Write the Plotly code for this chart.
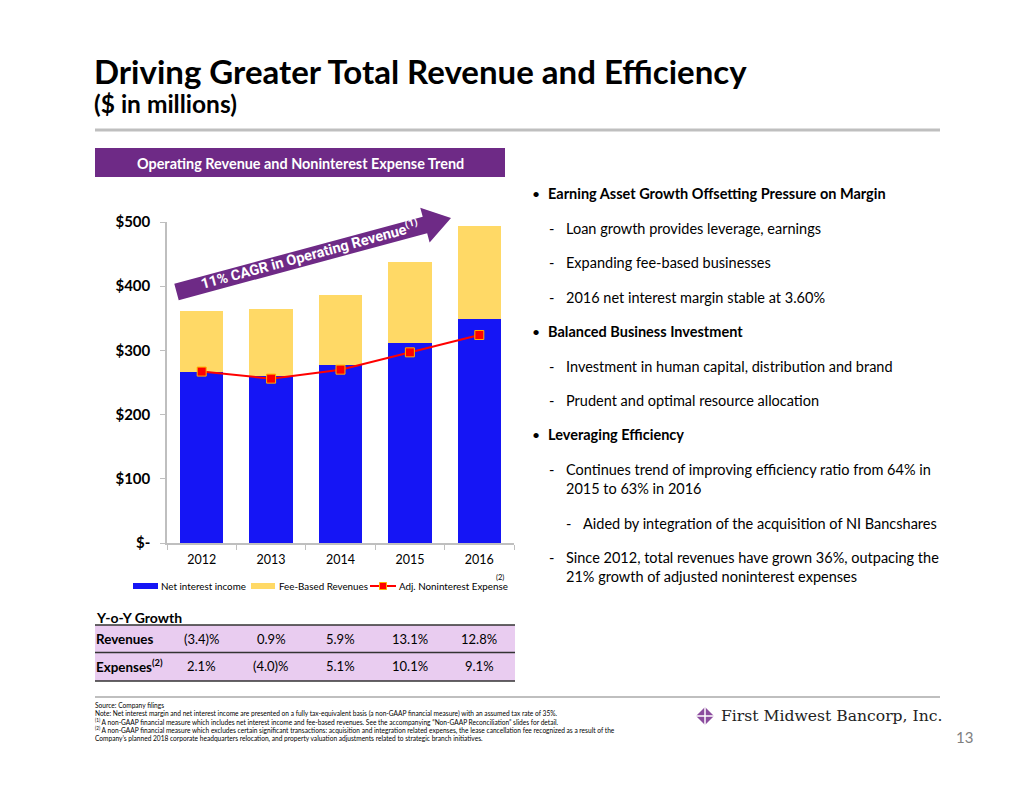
import math
import plotly.graph_objects as go

# ---------------- data ----------------
years = ["2012", "2013", "2014", "2015", "2016"]
net_interest_income = [266, 260, 277, 312, 349]
fee_based_revenues = [96, 105, 110, 126, 145]
adj_noninterest_expense = [267, 256, 270, 297, 324]
revenue_growth = ["(3.4)%", "0.9%", "5.9%", "13.1%", "12.8%"]
expense_growth = ["2.1%", "(4.0)%", "5.1%", "10.1%", "9.1%"]
y_tick_vals = [0, 100, 200, 300, 400, 500]
y_tick_text = ["$-", "$100", "$200", "$300", "$400", "$500"]

series_names = ["Net interest income", "Fee-Based Revenues", "Adj. Noninterest Expense"]
title_text = "Driving Greater Total Revenue and Efficiency"
subtitle_text = "($ in millions)"
header_text = "Operating Revenue and Noninterest Expense Trend"
arrow_text = "11% CAGR in Operating Revenue<sup>(1)</sup>"

# (level, text, y)  level 0 = bold bullet, 1 = dash, 2 = sub dash, 3 = continuation
bullets = [
    (0, "Earning Asset Growth Offsetting Pressure on Margin", 193),
    (1, "Loan growth provides leverage, earnings", 228),
    (1, "Expanding fee-based businesses", 262),
    (1, "2016 net interest margin stable at 3.60%", 297),
    (0, "Balanced Business Investment", 331),
    (1, "Investment in human capital, distribution and brand", 366),
    (1, "Prudent and optimal resource allocation", 400),
    (0, "Leveraging Efficiency", 434),
    (1, "Continues trend of improving efficiency ratio from 64% in", 469),
    (3, "2015 to 63% in 2016", 488),
    (2, "Aided by integration of the acquisition of NI Bancshares", 523),
    (1, "Since 2012, total revenues have grown 36%, outpacing the", 557),
    (3, "21% growth of adjusted noninterest expenses", 576),
]

footnotes = [
    ("Source: Company filings", 704.5),
    ("Note: Net interest margin and net interest income are presented on a fully tax-equivalent basis (a non-GAAP financial measure) with an assumed tax rate of 35%.", 713),
    ("<sup>(1)</sup> A non-GAAP financial measure which includes net interest income and fee-based revenues. See the accompanying \u201cNon-GAAP Reconciliation\u201d slides for detail.", 721),
    ("<sup>(2)</sup> A non-GAAP financial measure which excludes certain significant transactions: acquisition and integration related expenses, the lease cancellation fee recognized as a result of the", 729.5),
    ("Company\u2019s planned 2018 corporate headquarters relocation, and property valuation adjustments related to strategic branch initiatives.", 738),
]

# ---------------- geometry helpers (page pixel coords) ----------------
OFF = 8                      # page body margin
W, H = 1034 - 2 * OFF, 799 - 2 * OFF
PL, PR, PT, PB = 167, 514, 222, 543   # plot area in page pixels
ML, MR, MT, MB = PL - OFF, (W + OFF) - PR, PT - OFF, (H + OFF) - PB
PW = PR - PL
PH = PB - PT


def fx(px):
    return (px - PL) / PW


def fy(py):
    return (PB - py) / PH


FONT = "Lato, Carlito, Calibri, 'Open Sans', sans-serif"
PURPLE = "#6E2A86"
BLUE = "#1515F5"
YELLOW = "#FFD966"
RED = "#FF0000"
ORANGE = "#FFB000"

fig = go.Figure()
fig.add_trace(go.Bar(x=years, y=net_interest_income, name=series_names[0],
                     marker=dict(color=BLUE, line=dict(width=0))))
fig.add_trace(go.Bar(x=years, y=fee_based_revenues, name=series_names[1],
                     marker=dict(color=YELLOW, line=dict(width=0))))
fig.add_trace(go.Scatter(x=years, y=adj_noninterest_expense, mode="lines+markers",
                         name=series_names[2],
                         line=dict(color=RED, width=2),
                         marker=dict(symbol="square", size=9, color=RED,
                                     line=dict(color=ORANGE, width=1))))

annotations = []
shapes = []


def txt(text, x, y, size, color="#000000", xanchor="left", family=FONT, **kw):
    annotations.append(dict(text=text, x=fx(x), y=fy(y), xref="paper", yref="paper",
                            xanchor=xanchor, yanchor="middle", showarrow=False,
                            font=dict(family=family, size=size, color=color), **kw))


def rect(x0, y0, x1, y1, color, layer="above", line=None):
    shapes.append(dict(type="rect", xref="paper", yref="paper", x0=fx(x0), x1=fx(x1), y0=fy(y0), y1=fy(y1),
                       fillcolor=color, line=line or dict(width=0), layer=layer))


def hline(x0, x1, y, color, width):
    shapes.append(dict(type="line", xref="paper", yref="paper", x0=fx(x0), x1=fx(x1), y0=fy(y), y1=fy(y),
                       line=dict(color=color, width=width)))


# title
txt("<b>" + title_text + "</b>", 92, 71, 33)
txt("<b>" + subtitle_text + "</b>", 92, 104, 24.5)
hline(95, 940, 130, "#BFBFBF", 3)

# header box
rect(95, 148, 505, 177, PURPLE, layer="below")
txt("<b>" + header_text + "</b>", 300, 163, 14.4, color="#FFFFFF", xanchor="center")

# arrow
ox, oy = 176.5, 292.0
tx, ty = 451.0, 218.0
L = math.hypot(tx - ox, ty - oy)
ux, uy = (tx - ox) / L, (ty - oy) / L
nx, ny = -uy, ux
if ny > 0:
    nx, ny = -nx, -ny
hw, hh, hl = 8.5, 18, 27
pts = [(0, -hw), (L - hl, -hw), (L - hl, -hh), (L, 0), (L - hl, hh), (L - hl, hw), (0, hw)]
path = ""
for i, (s, t) in enumerate(pts):
    px = ox + s * ux + t * nx
    py = oy + s * uy + t * ny
    path += ("M" if i == 0 else " L") + " %.5f,%.5f" % (fx(px), fy(py))
path += " Z"
shapes.append(dict(type="path", path=path, xref="paper", yref="paper", fillcolor=PURPLE,
                   line=dict(width=0)))
ang = math.degrees(math.atan2(ty - oy, tx - ox))
txt("<b>" + arrow_text + "</b>", 309, 254, 14.5, color="#FFFFFF", xanchor="center",
    family="Roboto, 'DejaVu Sans', sans-serif", textangle=ang)

# bullets
for level, text, y in bullets:
    if level == 0:
        txt("\u2022", 530, y, 14)
        txt("<b>" + text + "</b>", 546, y, 14.5)
    elif level in (1, 2):
        dx = 0 if level == 1 else 17
        txt("-", 547 + dx, y, 14.5)
        txt(text, 564 + dx, y, 14.5)
    else:
        txt(text, 564, y, 14.5)

# manual legend (below chart)
rect(133, 583, 158, 589, BLUE)
txt(series_names[0], 159, 586, 9.8)
rect(251, 583, 275, 589, YELLOW)
txt(series_names[1], 277, 586, 9.8)
hline(370, 396, 586, RED, 2)
rect(379.5, 582.5, 386.5, 589.5, RED, line=dict(color=ORANGE, width=1))
txt(series_names[2], 397, 586, 9.8)
txt("(2)", 500, 577.5, 7.5, xanchor="center")

# table
txt("<b>Y-o-Y Growth</b>", 94, 617, 14)
rect(95, 625, 515, 681, "#E9CCF0", layer="below")
for yl in (625, 652.5, 681):
    hline(95, 515, yl, "#333333", 1.5)
txt("<b>Revenues</b>", 94, 638.5, 13.4)
txt("<b>Expenses<sup>(2)</sup></b>", 94, 665.5, 13.4)
for i, (rv, ev) in enumerate(zip(revenue_growth, expense_growth)):
    annotations.append(dict(text=rv, x=i, y=fy(638.5), xref="x", yref="paper",
                            xanchor="center", yanchor="middle", showarrow=False,
                            font=dict(family=FONT, size=13, color="#000000")))
    annotations.append(dict(text=ev, x=i, y=fy(666), xref="x", yref="paper",
                            xanchor="center", yanchor="middle", showarrow=False,
                            font=dict(family=FONT, size=13, color="#000000")))

# footnotes
hline(95, 940, 697, "#BFBFBF", 2)
for text, y in footnotes:
    txt(text, 93, y, 6.6)

# logo
cx, cy, r = 705, 716, 9
shapes.append(dict(type="path", xref="paper", yref="paper",
                   path="M %.5f,%.5f L %.5f,%.5f L %.5f,%.5f L %.5f,%.5f Z" % (
                       fx(cx), fy(cy - r), fx(cx + r), fy(cy), fx(cx), fy(cy + r), fx(cx - r), fy(cy)),
                   fillcolor="#8B4C9E", line=dict(width=0)))
hline(cx - r, cx + r, cy, "#FFFFFF", 1.5)
shapes.append(dict(type="line", xref="paper", yref="paper", x0=fx(cx), x1=fx(cx), y0=fy(cy - r), y1=fy(cy + r),
                   line=dict(color="#FFFFFF", width=1.5)))
txt("First Midwest Bancorp, Inc.", 719, 716, 15.6, color="#222222", family="'DejaVu Serif', serif")
txt("13", 964, 737, 15, color="#7F7F7F", xanchor="center")

fig.update_layout(
    width=W, height=H,
    margin=dict(l=ML, r=MR, t=MT, b=MB, pad=0),
    paper_bgcolor="#FFFFFF", plot_bgcolor="#FFFFFF",
    barmode="stack", bargap=0.376,
    font=dict(family=FONT, color="#000000"),
    showlegend=False,
    xaxis=dict(type="category", range=[-0.5, 4.5], showline=True, linecolor="#BFBFBF", linewidth=1.5,
               ticks="outside", tickson="boundaries", ticklen=5, tickcolor="#BFBFBF", ticklabelstandoff=4,
               showgrid=False, zeroline=False, tickfont=dict(family=FONT, size=12.5, color="#000000")),
    yaxis=dict(range=[0, 500], tickvals=y_tick_vals, ticktext=y_tick_text, showline=True,
               linecolor="#BFBFBF", linewidth=1.5, ticks="outside", ticklen=5, tickcolor="#BFBFBF",
               ticklabelstandoff=7, showgrid=False, zeroline=False,
               tickfont=dict(family=FONT, size=15, color="#000000", weight="bold")),
    annotations=annotations,
    shapes=shapes,
)

fig.write_html("out.html")
